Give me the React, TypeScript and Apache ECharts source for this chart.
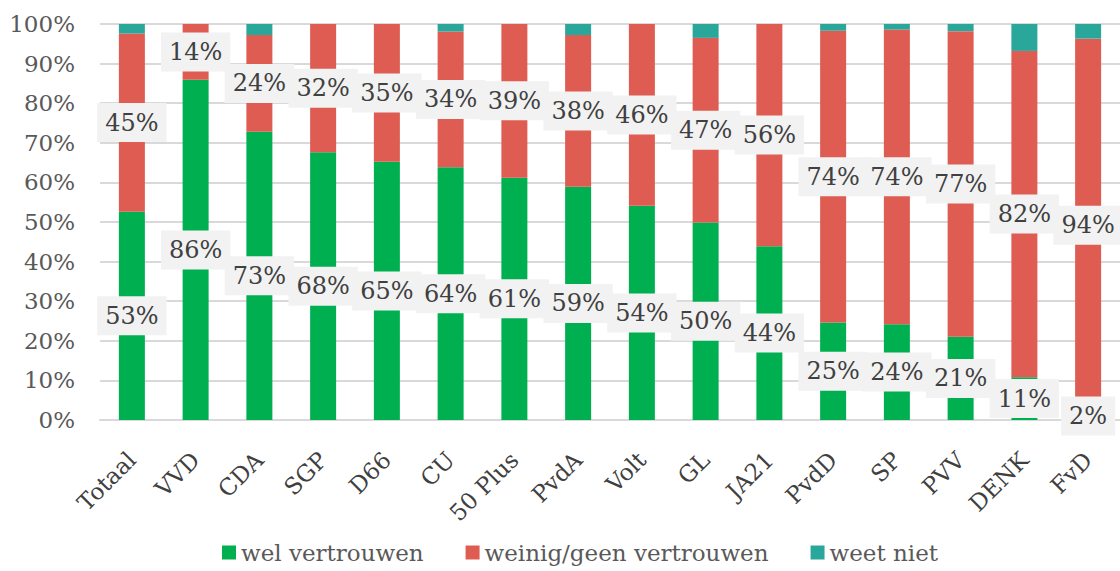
import React, { useEffect, useRef } from "react";
import * as echarts from "echarts";

const categories = ["Totaal", "VVD", "CDA", "SGP", "D66", "CU", "50 Plus", "PvdA", "Volt", "GL", "JA21", "PvdD", "SP", "PVV", "DENK", "FvD"];
const welVertrouwen = [52.6, 85.9, 72.8, 67.6, 65.2, 63.8, 61.2, 58.9, 54.1, 49.9, 43.9, 24.6, 24.2, 21.0, 10.8, 2.0];
const weinigVertrouwen = [45.0, 14.1, 24.4, 32.4, 34.8, 34.3, 38.8, 38.3, 45.9, 46.6, 56.1, 73.7, 74.4, 77.2, 82.4, 94.3];
const weetNiet = [2.4, 0, 2.8, 0, 0, 1.9, 0, 2.8, 0, 3.5, 0, 1.7, 1.4, 1.8, 6.8, 3.7];
const yTicks = [0, 10, 20, 30, 40, 50, 60, 70, 80, 90, 100];

const FONT = "DejaVu Serif";

export default function App() {
  const ref = useRef<HTMLDivElement>(null);
  useEffect(() => {
    if (!ref.current) return;
    const chart = echarts.init(ref.current, undefined, { renderer: "svg" });
    const label = {
      show: true,
      position: "inside",
      formatter: (p: any) => Math.round(p.value) + "%",
      fontFamily: FONT,
      fontSize: 24,
      color: "#404040",
      backgroundColor: "#f2f2f2",
      padding: [8, 8, 7, 8],
    };
    chart.setOption({
      animation: false,
      textStyle: { fontFamily: FONT },
      grid: { left: 100, right: -9, top: 24, bottom: 151 },
      legend: {
        bottom: 2,
        left: 217,
        icon: "rect",
        itemWidth: 14,
        itemHeight: 14,
        itemGap: 42,
        textStyle: { fontFamily: FONT, fontSize: 23, color: "#595959" },
        data: ["wel vertrouwen", "weinig/geen vertrouwen", "weet niet"],
      },
      xAxis: {
        type: "category",
        data: categories,
        axisTick: { show: false },
        axisLine: { lineStyle: { color: "#d9d9d9", width: 2 } },
        axisLabel: {
          rotate: 45,
          interval: 0,
          margin: 36,
          fontFamily: FONT,
          fontSize: 23,
          color: "#404040",
        },
      },
      yAxis: {
        type: "value",
        min: 0,
        max: 100,
        interval: 10,
        axisLabel: {
          formatter: (v: number) => (yTicks.includes(v) ? v + "%" : ""),
          fontFamily: FONT,
          fontSize: 23,
          color: "#595959",
          margin: 25,
        },
        splitLine: { lineStyle: { color: "#d9d9d9", width: 2 } },
        axisLine: { show: false },
        axisTick: { show: false },
      },
      series: [
        {
          name: "wel vertrouwen",
          type: "bar",
          stack: "t",
          barWidth: 26,
          data: welVertrouwen,
          itemStyle: { color: "#00b050" },
          label,
          z: 2,
        },
        {
          name: "weinig/geen vertrouwen",
          type: "bar",
          stack: "t",
          barWidth: 26,
          data: weinigVertrouwen,
          itemStyle: { color: "#df5c52" },
          label,
          z: 2,
        },
        {
          name: "weet niet",
          type: "bar",
          stack: "t",
          barWidth: 26,
          data: weetNiet,
          itemStyle: { color: "#2aa79b" },
          z: 2,
        },
      ],
    });
    return () => chart.dispose();
  }, []);
  return (
    <div
      ref={ref}
      style={{ position: "absolute", left: 0, top: 0, width: 1120, height: 571 }}
    />
  );
}
